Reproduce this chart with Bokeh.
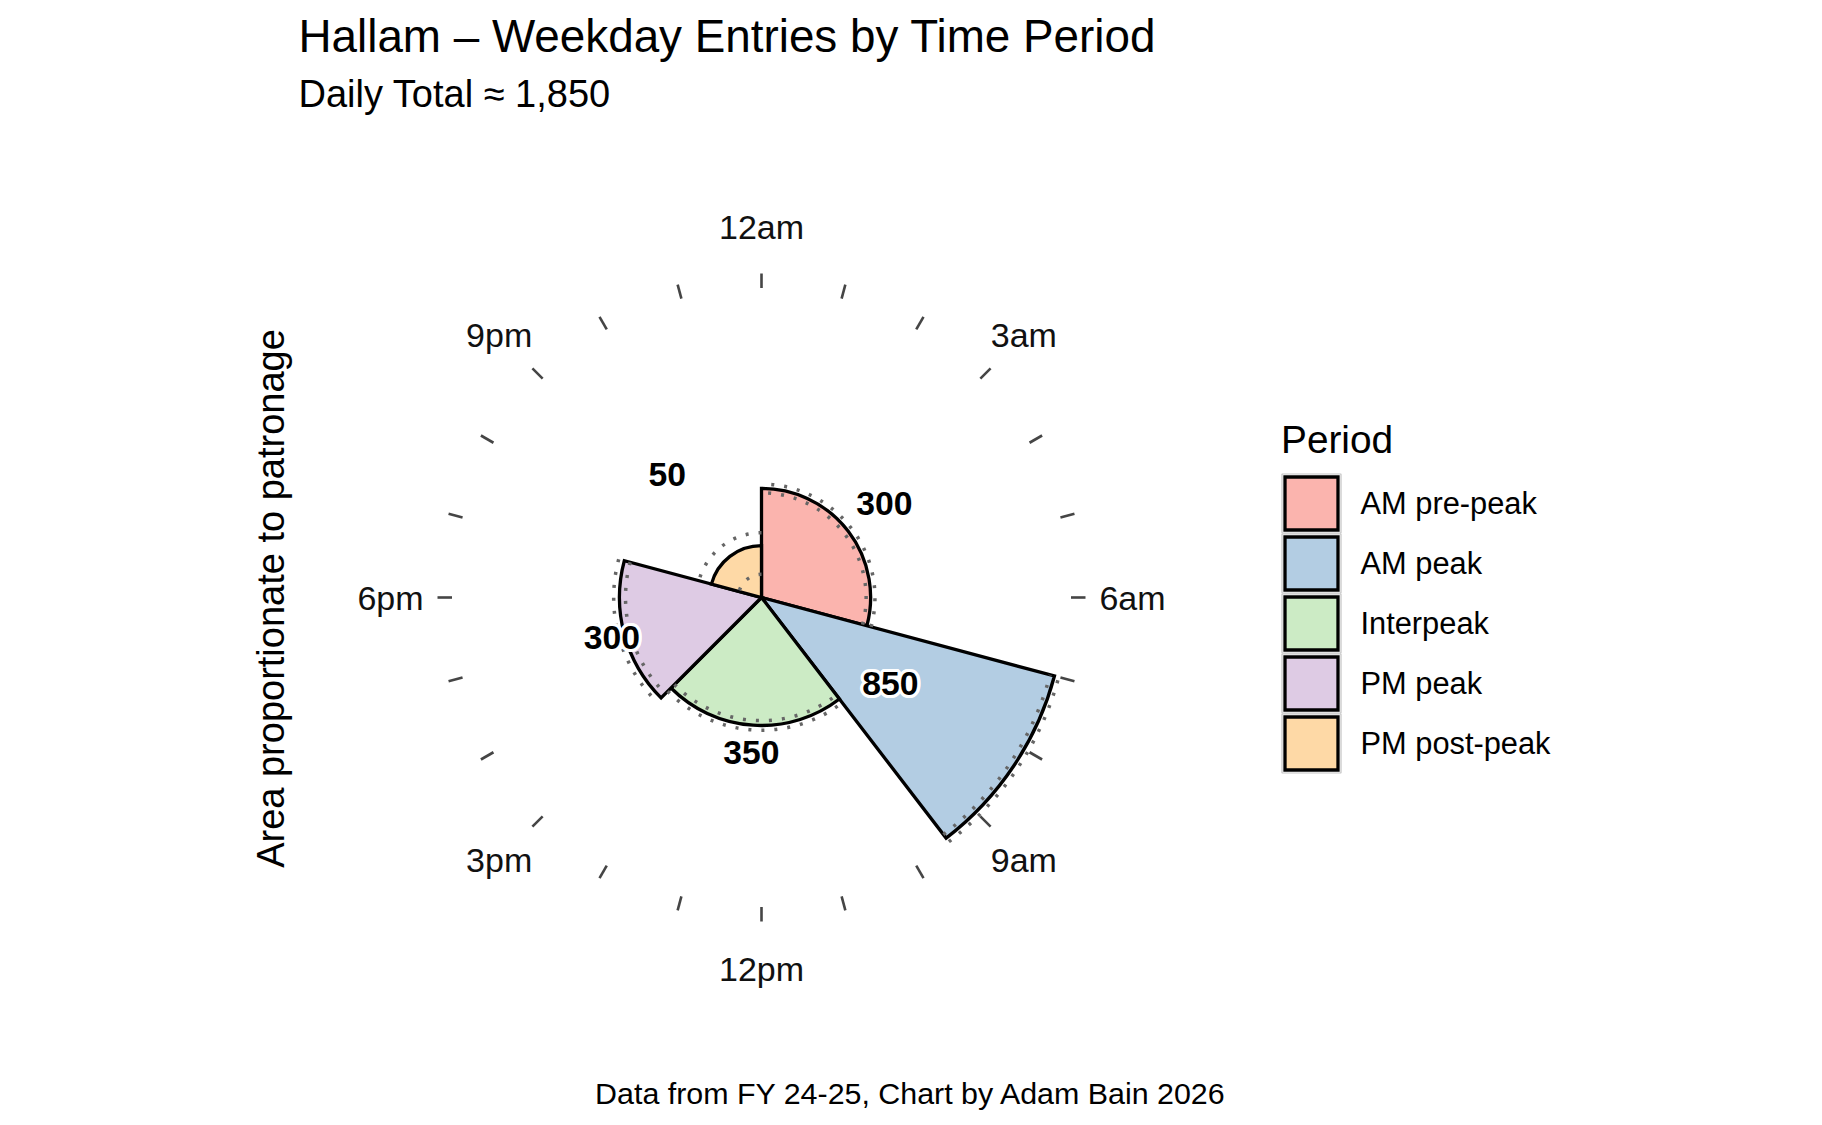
import numpy as np
from bokeh.plotting import figure
from bokeh.models import Range1d, Label, ColumnDataSource
from bokeh.core.properties import value
from bokeh.embed import file_html
from bokeh.resources import INLINE

# ---------------- data ----------------
periods = ["AM pre-peak", "AM peak", "Interpeak", "PM peak", "PM post-peak"]
start_hour = [0, 7, 9.5, 15, 19]
end_hour = [7, 9.5, 15, 19, 24]
entries = [310, 855, 335, 300, 50]
entries_low = [285, 830, 310, 275, 10]
entries_high = [335, 880, 360, 325, 78]
value_labels = ["300", "850", "350", "300", "50"]
colors = ["#FBB4AE", "#B3CDE3", "#CCEBC5", "#DECBE4", "#FED9A6"]
hour_ticks = list(range(24))
hour_label_hours = [0, 3, 6, 9, 12, 15, 18, 21]
hour_labels = ["12am", "3am", "6am", "9am", "12pm", "3pm", "6pm", "9pm"]
title_text = "Hallam \u2013 Weekday Entries by Time Period"
subtitle_text = "Daily Total \u2248 1,850"
ylabel_text = "Area proportionate to patronage"
caption_text = "Data from FY 24-25, Chart by Adam Bain 2026"
legend_title = "Period"

# ---------------- layout ----------------
W, H = 1820, 1122
S = 16.4            # px per radius unit (sqrt(entries / hour))
CX, CY = 761, 597   # canvas px of polar centre
FONT = "Liberation Sans"


def ang(h):
    return np.pi / 2 - np.asarray(h, dtype=float) * np.pi / 12


def dx(px):
    return (px - CX) / S


def dy(py):
    return (CY - py) / S


p = figure(width=W, height=H, output_backend="svg", toolbar_location=None,
           x_range=Range1d(-CX / S, (W - CX) / S),
           y_range=Range1d(-(H - CY) / S, CY / S),
           x_axis_location=None, y_axis_location=None,
           min_border=0, outline_line_color=None, background_fill_color="white",
           border_fill_color="white")
p.grid.visible = False

hours = np.array(end_hour) - np.array(start_hour)
src = ColumnDataSource(dict(
    r=np.sqrt(np.array(entries) / hours),
    rlo=np.sqrt(np.array(entries_low) / hours),
    rhi=np.sqrt(np.array(entries_high) / hours),
    a0=ang(end_hour), a1=ang(start_hour), color=colors,
))

p.wedge(x=0, y=0, radius="r", start_angle="a0", end_angle="a1", direction="anticlock",
        fill_color="color", line_color="black", line_width=3.3, line_join="miter",
        source=src)
for col in ["rlo", "rhi"]:
    p.arc(x=0, y=0, radius=col, start_angle="a0", end_angle="a1", direction="anticlock",
          line_color="#666666", line_width=3.5, line_dash="3 10", source=src)

# clock ticks
r_in, r_out = 309.5 / S, 324.0 / S
ta = ang(hour_ticks)
p.segment(x0=r_in * np.cos(ta), y0=r_in * np.sin(ta), x1=r_out * np.cos(ta),
          y1=r_out * np.sin(ta), line_color="#454545", line_width=2.6)

# hour labels
r_lab = 371.0 / S
la = ang(hour_label_hours)
p.text(x=r_lab * np.cos(la), y=r_lab * np.sin(la), text=hour_labels,
       text_align="center", text_baseline="middle", text_font=value(FONT),
       text_font_size="34px", text_color="#111111")

# value labels with white halo
r_val = 155.0 / S
mid = ang((np.array(start_hour) + np.array(end_hour)) / 2)
vx, vy = r_val * np.cos(mid), r_val * np.sin(mid)
for k in range(16):
    t = 2 * np.pi * k / 16
    p.text(x=vx, y=vy, text=value_labels, x_offset=3.2 * np.cos(t), y_offset=3.2 * np.sin(t),
           text_align="center", text_baseline="middle", text_font=value(FONT),
           text_font_size="33.7px", text_font_style="bold", text_color="white")
p.text(x=vx, y=vy, text=value_labels, text_align="center", text_baseline="middle",
       text_font=value(FONT), text_font_size="33.7px", text_font_style="bold",
       text_color="black")

# legend (manual)
key_cx = 1311
key_cy = 503 + 60 * np.arange(len(periods))
p.rect(x=dx(key_cx), y=dy(key_cy), width=59 / S, height=59 / S, fill_color=None,
       line_color="#c4c4c4", line_width=1.2)
p.rect(x=dx(key_cx), y=dy(key_cy), width=53 / S, height=53 / S, fill_color=colors,
       line_color="black", line_width=3.3, line_join="miter")
p.text(x=dx(1360), y=dy(key_cy), text=periods, text_align="left", text_baseline="middle",
       text_font=value(FONT), text_font_size="30.8px", text_color="black")


def label(text, x, y, size, align="left", angle=0, color="black"):
    p.add_layout(Label(x=x, y=H - y, x_units="screen", y_units="screen", text=text,
                       text_font=FONT, text_font_size=size, text_align=align,
                       text_baseline="middle", angle=angle, text_color=color))


label(title_text, 298, 35.5, "45.8px")
label(subtitle_text, 298, 93.5, "38px")
label(ylabel_text, 270, 598, "38px", align="center", angle=np.pi / 2)
label(legend_title, 1280.5, 438.5, "38.8px")
label(caption_text, 910.5, 1092, "30.4px", align="center")

open("out.html", "w").write(file_html(p, INLINE))
